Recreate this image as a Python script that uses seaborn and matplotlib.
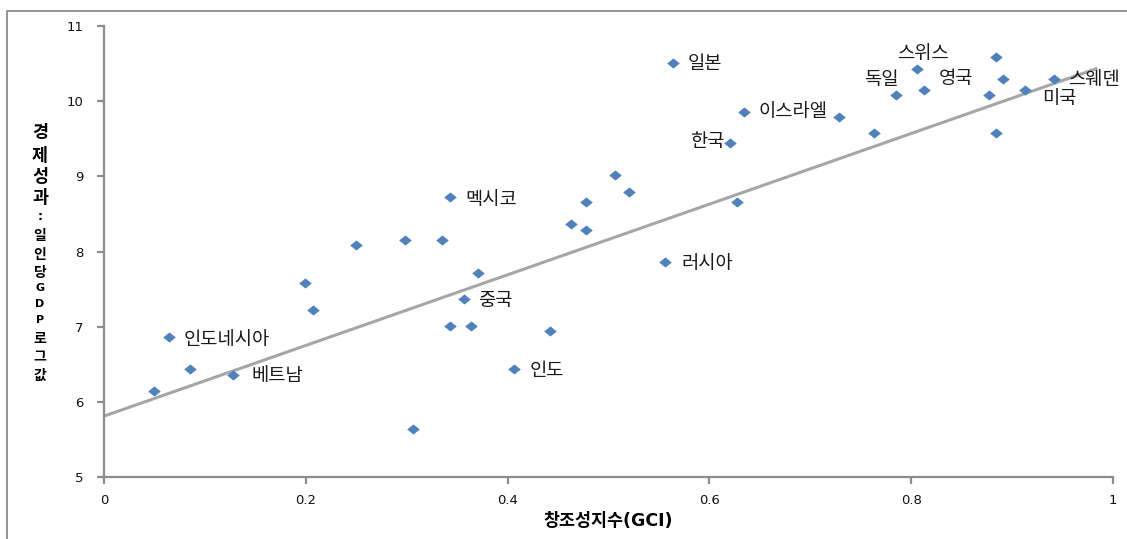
import numpy as np
import pandas as pd
import matplotlib
matplotlib.use("Agg")
import matplotlib.pyplot as plt
import seaborn as sns
from matplotlib.patches import Rectangle

# GCI (creativity index) vs log GDP per capita
gci = [0.050, 0.064, 0.085, 0.128, 0.199, 0.207, 0.250, 0.298, 0.335, 0.306,
       0.343, 0.343, 0.364, 0.357, 0.371, 0.406, 0.442, 0.463, 0.478, 0.478,
       0.506, 0.520, 0.556, 0.564, 0.620, 0.627, 0.634, 0.728, 0.763, 0.785,
       0.806, 0.813, 0.877, 0.884, 0.884, 0.891, 0.913, 0.942]
log_gdp = [6.14, 6.86, 6.44, 6.36, 7.58, 7.22, 8.09, 8.15, 8.15, 5.64,
           8.72, 7.01, 7.01, 7.37, 7.71, 6.44, 6.94, 8.37, 8.66, 8.29,
           9.02, 8.79, 7.86, 10.51, 9.44, 8.66, 9.86, 9.79, 9.58, 10.08,
           10.43, 10.15, 10.08, 10.59, 9.58, 10.29, 10.15, 10.29]

# labelled countries: name, point index, label offset in pixels
label_names = ["인도네시아", "베트남", "멕시코", "중국", "인도", "러시아", "일본",
               "한국", "이스라엘", "독일", "스위스", "영국", "미국", "스웨덴"]
label_idx = [1, 3, 10, 13, 15, 22, 23, 24, 26, 29, 30, 31, 36, 37]
label_dx = [15, 18, 15, 14, 16, 16, 15, -40, 15, -32, -20, 14, 17, 14]
label_dy = [-2, -1, -2, -2, -2, -1, -1, 2, 0, 16, 15, 11, -9, 0]

# linear trend line
trend_intercept = 5.81
trend_slope = 4.70
trend_end = 0.983

df = pd.DataFrame({"GCI": gci, "GDP": log_gdp})

plt.rcParams['font.family'] = ['DejaVu Sans', 'Noto Sans CJK KR']
fig = plt.figure(figsize=(11.27, 5.39), dpi=100)
ax = fig.add_axes([104/1127, 1 - 477/539, (1113-104)/1127, (477-26)/539])

# outer chart frame (cropped at right and bottom)
fig.patches.append(Rectangle((7/1127, -0.1), 1.2, 1 - 11/539 + 0.1,
                             transform=fig.transFigure, fill=False,
                             edgecolor='#8c8c8c', linewidth=1.3))

xs = np.array([0, trend_end])
trend = pd.DataFrame({"GCI": xs, "GDP": trend_intercept + trend_slope * xs})
sns.lineplot(data=trend, x="GCI", y="GDP", ax=ax, color='#a6a6a6', linewidth=2.2)

diamond = [(-1, 0), (0, 0.8), (1, 0), (0, -0.8), (-1, 0)]
sns.scatterplot(data=df, x="GCI", y="GDP", ax=ax, marker=diamond, s=70,
                color='#4f81bd', edgecolor='#4a7ab5', linewidth=0.4, zorder=3)

for name, i, dx, dy in zip(label_names, label_idx, label_dx, label_dy):
    ax.annotate(name, (gci[i], log_gdp[i]), xytext=(dx, dy),
                textcoords='offset pixels', ha='left', va='center',
                fontsize=13.5, family='Noto Sans CJK KR', color='#1a1a1a')

ax.set_xlim(0, 1)
ax.set_ylim(5, 11)
ax.set_xticks([0, 0.2, 0.4, 0.6, 0.8, 1])
ax.set_xticklabels(["0", "0.2", "0.4", "0.6", "0.8", "1"])
ax.set_yticks([5, 6, 7, 8, 9, 10, 11])
for s in ['top', 'right']:
    ax.spines[s].set_visible(False)
for s in ['left', 'bottom']:
    ax.spines[s].set_color('#8c8c8c')
    ax.spines[s].set_linewidth(1.6)
ax.tick_params(axis='both', colors='#8c8c8c', width=1.6, length=5,
               labelcolor='#111111', labelsize=9.5)
ax.tick_params(axis='x', pad=7)
ax.tick_params(axis='y', pad=10)
ax.set_xlabel("")
ax.set_ylabel("")

fig.text(608/1127, 1 - 521/539, "창조성지수(GCI)",
         ha='center', va='center', fontsize=12.5, fontweight='bold',
         family=['DejaVu Sans', 'Noto Sans CJK KR'])

# vertical y axis title, one character per line
ychars = ["경", "제", "성", "과", ":", "일", "인", "당", "G", "D", "P", "로", "그", "값"]
ypix = [133, 156, 177, 198, 216, 236, 255, 273, 288, 304, 320, 339, 357, 376]
ysize = [12.5, 12.5, 12.5, 12.5, 9, 10, 10, 10, 8, 8, 8, 10, 10, 10]
for ch, py, fs in zip(ychars, ypix, ysize):
    fig.text(40/1127, 1 - py/539, ch, ha='center', va='center', fontsize=fs,
             fontweight='bold', family=['DejaVu Sans', 'Noto Sans CJK KR'])

fig.savefig("out.png", dpi=100, facecolor='white')
